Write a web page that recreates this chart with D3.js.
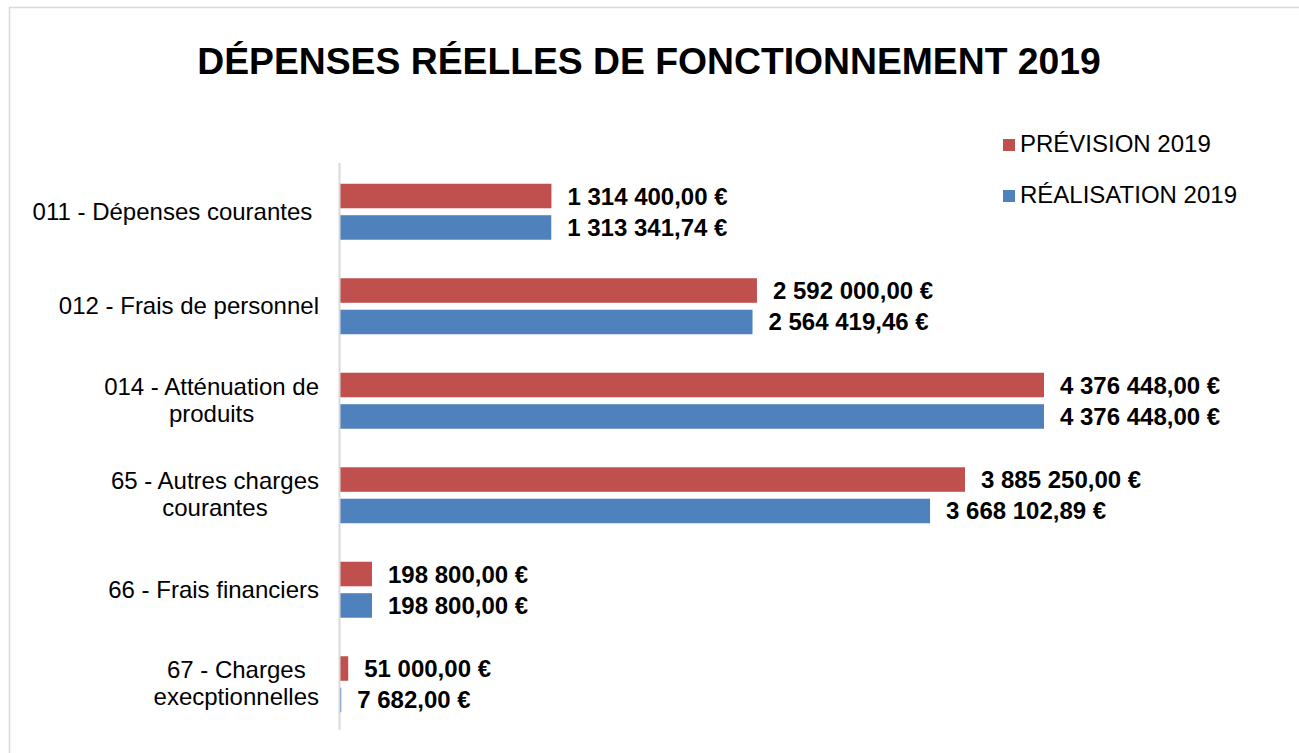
<!DOCTYPE html>
<html>
<head>
<meta charset="utf-8">
<script src="https://cdn.jsdelivr.net/npm/d3@7"></script>
<style>
body{margin:0;background:#fff;}
svg{display:block;font-family:Arial,"Liberation Sans",sans-serif;}
</style>
</head>
<body>
<script>
var categories = [
	["011 - Dépenses courantes "],
	["012 - Frais de personnel"],
	["014 - Atténuation de", "produits"],
	["65 - Autres charges", "courantes"],
	["66 - Frais financiers"],
	["67 - Charges", "execptionnelles"]
];
var series = ["PRÉVISION 2019", "RÉALISATION 2019"];
var prevision = [1314400, 2592000, 4376448, 3885250, 198800, 51000];
var realisation = [1313341.74, 2564419.46, 4376448, 3668102.89, 198800, 7682];
var colors = ["#C0504D", "#4F81BD"];

var w = 1299, h = 753;
var svg = d3.select("body").append("svg")
	.attr("width", w)
	.attr("height", h);

// cadre
svg.append("rect")
	.attr("x", 9.5).attr("y", 7.5)
	.attr("width", w).attr("height", h)
	.attr("fill", "none")
	.attr("stroke", "#D9D9D9")
	.attr("stroke-width", 1.5);

svg.append("text")
	.attr("x", 649).attr("y", 74)
	.attr("text-anchor", "middle")
	.style("font-size", "37.3px")
	.style("font-weight", "bold")
	.text("DÉPENSES RÉELLES DE FONCTIONNEMENT 2019");

var idx = d3.range(categories.length);
var y = d3.scaleBand().domain(idx).range([163, 730]);
var ySub = d3.scaleBand().domain([0, 1]).range([0, 56]).paddingInner(0.22);
var x = d3.scaleLinear().domain([0, 4376448]).range([340, 1044]);

var loc = d3.formatLocale({decimal: ",", thousands: " ", grouping: [3], currency: ["", " €"]});
var fmt = loc.format(",.2f");

var data = [prevision, realisation];

function groupTop(i) { return y(i) + y.bandwidth() / 2 - 28 + 1.5; }

data.forEach(function(vals, s) {
	svg.append("g").selectAll("rect")
		.data(vals)
		.enter()
		.append("rect")
		.attr("x", x(0))
		.attr("y", function(d, i) { return groupTop(i) + ySub(s); })
		.attr("width", function(d) { return Math.max(1, x(d) - x(0)); })
		.attr("height", ySub.bandwidth())
		.attr("fill", colors[s]);

	svg.append("g").selectAll("text")
		.data(vals)
		.enter()
		.append("text")
		.attr("x", function(d) { return x(d) + 16; })
		.attr("y", function(d, i) { return groupTop(i) + ySub(s) + ySub.bandwidth() / 2 + 8.5; })
		.style("font-size", "24px")
		.style("font-weight", "bold")
		.text(function(d) { return fmt(d) + " €"; });
});

// axe vertical
svg.append("line")
	.attr("x1", 339.5).attr("x2", 339.5)
	.attr("y1", 163).attr("y2", 730)
	.attr("stroke", "#D9D9D9")
	.attr("stroke-width", 2);

// libellés des catégories
categories.forEach(function(lines, i) {
	var cy = groupTop(i) + 28;
	var g = svg.append("g");
	var t = g.selectAll("text")
		.data(lines)
		.enter()
		.append("text")
		.attr("text-anchor", "middle")
		.style("font-size", "24px")
		.style("white-space", "pre")
		.attr("y", function(d, k) {
			if (lines.length == 1) return cy + 8;
			return cy - 6 + k * 27;
		})
		.text(function(d) { return d; });
	var maxW = 0;
	t.each(function() { maxW = Math.max(maxW, this.getComputedTextLength()); });
	t.attr("x", 319 - maxW / 2);
});

// légende
var leg = svg.append("g");
series.forEach(function(s, i) {
	leg.append("rect")
		.attr("x", 1003).attr("y", 139 + i * 51)
		.attr("width", 12).attr("height", 12)
		.attr("fill", colors[i]);
	leg.append("text")
		.attr("x", 1020).attr("y", 152 + i * 51)
		.style("font-size", "24px")
		.text(s);
});
</script>
</body>
</html>
